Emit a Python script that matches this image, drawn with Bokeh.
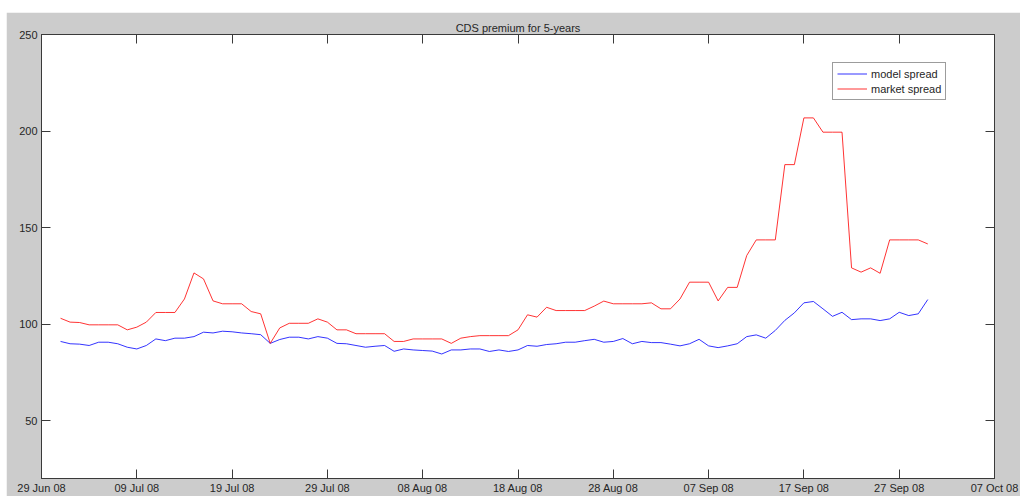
import pandas as pd
from bokeh.plotting import figure
from bokeh.models import (FixedTicker, DatetimeTickFormatter, LinearAxis, DatetimeAxis,
                          Range1d, Legend, LegendItem, ColumnDataSource)
from bokeh.embed import file_html
from bokeh.resources import INLINE

title_text = "CDS premium for 5-years"
start_date = "2008-07-01"

model_spread = [
    91, 89.8, 89.6, 88.9, 90.6, 90.6, 89.8, 88, 87.1, 88.9,
    92.3, 91.4, 92.7, 92.7, 93.5, 95.8, 95.4, 96.3, 96, 95.4,
    95, 94.5, 90, 92, 93.2, 93.2, 92.3, 93.5, 92.7, 90,
    89.8, 88.9, 88, 88.5, 88.9, 85.9, 87.1, 86.6, 86.3, 86,
    84.5, 86.6, 86.6, 87.1, 87.1, 85.8, 86.6, 85.8, 86.6, 88.9,
    88.5, 89.4, 89.8, 90.6, 90.6, 91.4, 92.1, 90.6, 91, 92.5,
    89.8, 91, 90.4, 90.4, 89.6, 88.7, 89.8, 92.1, 88.7, 87.8,
    88.7, 89.8, 93.5, 94.4, 92.7, 96.7, 101.9, 105.8, 111, 111.7,
    107.9, 104, 106.1, 102.3, 102.7, 102.7, 101.8, 102.7, 106.1, 104.4,
    105.3, 112.7,
]

market_spread = [
    103, 101, 100.8, 99.6, 99.6, 99.6, 99.6, 97, 98.4, 101,
    106, 106, 106, 113, 126.5, 123.4, 112, 110.5, 110.5, 110.5,
    106.5, 105.3, 90, 98, 100.4, 100.4, 100.4, 102.7, 101, 97,
    97, 95, 95, 95, 95, 91, 91, 92.3, 92.3, 92.3,
    92.3, 90, 92.7, 93.5, 94, 94, 94, 94, 97, 104.8,
    103.6, 108.7, 107, 107, 107, 107, 109.3, 111.9, 110.5, 110.5,
    110.5, 110.5, 111, 107.9, 107.9, 113, 121.7, 121.7, 121.7, 112,
    119, 119, 135.5, 143.6, 143.6, 143.6, 182.6, 182.6, 206.8, 206.8,
    199.4, 199.4, 199.4, 129.1, 126.9, 129.1, 126.3, 143.6, 143.6, 143.6,
    143.6, 141.5,
]

x_tick_dates = ["2008-06-29", "2008-07-09", "2008-07-19", "2008-07-29", "2008-08-08",
                "2008-08-18", "2008-08-28", "2008-09-07", "2008-09-17", "2008-09-27",
                "2008-10-07"]
y_ticks = [50, 100, 150, 200, 250]
x_start, x_end = "2008-06-29", "2008-10-07"
y_start, y_end = 20, 250
series_names = ["model spread", "market spread"]

dates = pd.date_range(start_date, periods=len(model_spread), freq="D")
src = ColumnDataSource(dict(date=dates, model=model_spread, market=market_spread))

FONT = "Liberation Sans"
TXT = "#262626"
AX = "#3a3a3a"

p = figure(width=1014, height=484, output_backend="svg", toolbar_location=None,
           x_axis_type="datetime",
           x_range=Range1d(pd.Timestamp(x_start), pd.Timestamp(x_end)),
           y_range=Range1d(y_start, y_end),
           min_border_left=35, min_border_right=26, min_border_top=22, min_border_bottom=18)
p.margin = (12, 0, 0, 6)
p.border_fill_color = "#cccccc"
p.background_fill_color = "white"
p.outline_line_color = AX
p.grid.visible = False

p.title.text = title_text
p.title.align = "center"
p.title.text_font = FONT
p.title.text_font_size = "11px"
p.title.text_font_style = "normal"
p.title.text_color = TXT
p.title.standoff = 2

xt = [pd.Timestamp(d).value / 1e6 for d in x_tick_dates]
fmt = DatetimeTickFormatter(days="%d %b %y", months="%d %b %y")

def style(ax, show):
    ax.major_tick_in = 9
    ax.major_tick_out = 0
    ax.minor_tick_line_color = None
    ax.axis_line_color = AX
    ax.major_tick_line_color = AX
    ax.major_label_text_font = FONT
    if show:
        ax.major_label_text_color = TXT
        ax.major_label_text_font_size = "11px"
    else:
        ax.major_label_text_color = None
        ax.major_label_text_font_size = "1px"
        ax.major_label_standoff = 0

xa = p.xaxis[0]
xa.ticker = FixedTicker(ticks=xt)
xa.formatter = fmt
style(xa, True)
xa.major_label_standoff = 3

ya = p.yaxis[0]
ya.ticker = FixedTicker(ticks=y_ticks)
style(ya, True)
ya.major_label_standoff = 4

top = DatetimeAxis(ticker=FixedTicker(ticks=xt), formatter=fmt)
style(top, False)
p.add_layout(top, "above")
right = LinearAxis(ticker=FixedTicker(ticks=y_ticks))
style(right, False)
p.add_layout(right, "right")

r1 = p.line("date", "model", source=src, line_color="#0000ff", line_width=1, line_alpha=0.8)
r2 = p.line("date", "market", source=src, line_color="#ff0000", line_width=1, line_alpha=0.8)

legend = Legend(items=[LegendItem(label=series_names[0], renderers=[r1]),
                       LegendItem(label=series_names[1], renderers=[r2])],
                location=(791, 378))
legend.border_line_color = AX
legend.border_line_width = 1
legend.background_fill_color = "white"
legend.background_fill_alpha = 1
legend.label_text_font = FONT
legend.label_text_font_size = "11px"
legend.label_text_color = TXT
legend.glyph_width = 30
legend.glyph_height = 13
legend.label_height = 13
legend.label_standoff = 4
legend.padding = 4
legend.spacing = 2
legend.margin = 0
p.add_layout(legend)

open("out.html", "w").write(file_html(p, INLINE))
